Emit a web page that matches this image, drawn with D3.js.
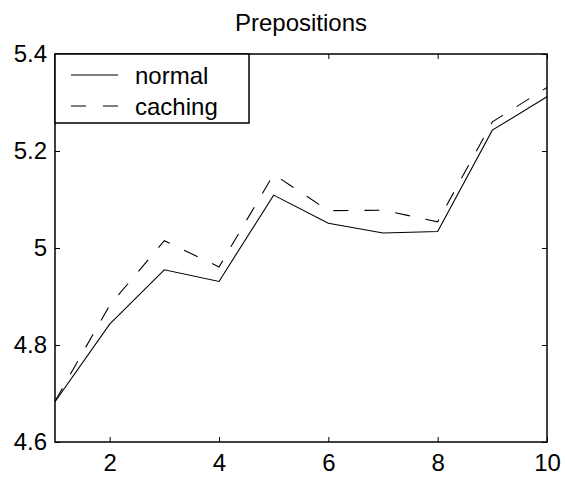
<!DOCTYPE html>
<html><head><meta charset="utf-8">
<script src="https://cdn.jsdelivr.net/npm/d3@7"></script>
<style>body{margin:0;background:#fff}svg{display:block}text{font-family:"Liberation Sans",Arial,sans-serif}</style>
</head><body>
<script>
const xValues = [1,2,3,4,5,6,7,8,9,10];
const normal  = [4.683,4.843,4.955,4.931,5.109,5.051,5.031,5.034,5.243,5.312];
const caching = [4.684,4.882,5.015,4.961,5.152,5.077,5.078,5.054,5.260,5.331];
const xTicks = [2,4,6,8,10];
const yTicks = [4.6,4.8,5,5.2,5.4];
const seriesNames = ["normal","caching"];
const titleText = "Prepositions";

(function(){
const W=565,H=487;
const m={l:55,r:18,t:54,b:45};
const svg=d3.select("body").append("svg").attr("width",W).attr("height",H);
const x=d3.scaleLinear().domain([1,10]).range([m.l,W-m.r]);
const y=d3.scaleLinear().domain([4.6,5.4]).range([H-m.b,m.t]);
const fs=24;

svg.append("rect").attr("x",x(1)).attr("y",y(5.4)).attr("width",x(10)-x(1)).attr("height",y(4.6)-y(5.4))
  .attr("fill","none").attr("stroke","#000").attr("stroke-width",1.5);

const tl=5;
const gB=svg.append("g").attr("transform",`translate(0,${y(4.6)})`)
  .call(d3.axisBottom(x).tickValues(xTicks).tickSize(-tl).tickPadding(12).tickFormat(d3.format("d")));
const gT=svg.append("g").attr("transform",`translate(0,${y(5.4)})`)
  .call(d3.axisTop(x).tickValues(xTicks).tickSize(-tl).tickFormat(""));
const gL=svg.append("g").attr("transform",`translate(${x(1)},0)`)
  .call(d3.axisLeft(y).tickValues(yTicks).tickSize(-tl).tickPadding(8).tickFormat(d=>String(d)));
const gR=svg.append("g").attr("transform",`translate(${x(10)},0)`)
  .call(d3.axisRight(y).tickValues(yTicks).tickSize(-tl).tickFormat(""));
[gB,gT,gL,gR].forEach(g=>{
  g.select(".domain").remove();
  g.selectAll("line").attr("stroke","#000").attr("stroke-width",1);
  g.selectAll("text").attr("font-size",fs).attr("fill","#000").style("font-family",'"Liberation Sans",Arial,sans-serif');
});

const line=d3.line().x((d,i)=>x(xValues[i])).y(d=>y(d));
svg.append("path").datum(normal).attr("d",line).attr("fill","none").attr("stroke","#000").attr("stroke-width",1.1);
svg.append("path").datum(caching).attr("d",line).attr("fill","none").attr("stroke","#000").attr("stroke-width",1.1).attr("stroke-dasharray","15,16");

svg.append("text").attr("x",(x(1)+x(10))/2).attr("y",31).attr("text-anchor","middle").attr("font-size",fs).attr("fill","#000").text(titleText);

const lg=svg.append("g");
lg.append("rect").attr("x",x(1)).attr("y",y(5.4)).attr("width",194).attr("height",69).attr("fill","#fff").attr("stroke","#000").attr("stroke-width",1.5);
const dashes=[null,"15,17"];
seriesNames.forEach((n,i)=>{
  const yy=75+i*31;
  lg.append("line").attr("x1",71).attr("x2",118).attr("y1",yy).attr("y2",yy).attr("stroke","#000").attr("stroke-width",1.1).attr("stroke-dasharray",dashes[i]);
  lg.append("text").attr("x",135).attr("y",yy+9).attr("font-size",fs).attr("fill","#000").text(n);
});
})();
</script>
</body></html>
